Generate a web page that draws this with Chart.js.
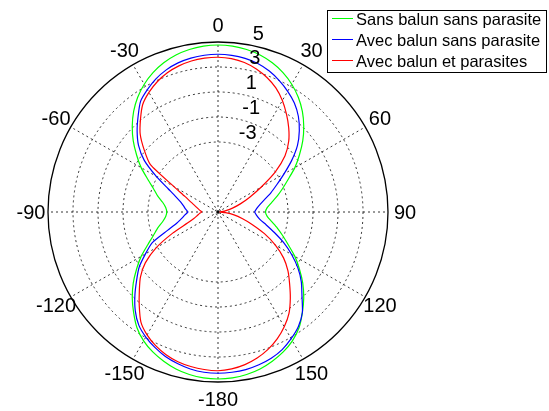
<!DOCTYPE html>
<html><head><meta charset="utf-8">
<script src="https://cdn.jsdelivr.net/npm/chart.js@4"></script>
<style>html,body{margin:0;padding:0;background:#fff;}canvas{display:block;}</style>
</head><body>
<canvas id="c" width="549" height="411"></canvas>
<script>
// Angle categories (degrees, clockwise from top)
const ANGLES = [0,5,10,15,20,25,30,35,40,45,50,55,60,65,70,75,80,85,90,
  95,100,105,110,115,120,125,130,135,140,145,150,155,160,165,170,175,180,
  185,190,195,200,205,210,215,220,225,230,235,240,245,250,255,260,265,270,
  275,280,285,290,295,300,305,310,315,320,325,330,335,340,345,350,355];

// Series values (dB)
const SANS_BALUN_SANS_PARASITE = [4.76,4.72,4.6,4.4,4.1,3.7,3.2,2.6,1.9,1.1,0.25,-0.65,-1.5,-2.4,-3.1,-3.7,-4.25,-4.65,-4.8,
  -4.65,-4.25,-3.7,-3.1,-2.4,-1.5,-0.65,0.25,1.1,1.9,2.7,3.3,3.75,4.1,4.4,4.6,4.72,4.76,
  4.72,4.6,4.4,4.1,3.75,3.3,2.7,1.9,1.1,0.25,-0.65,-1.5,-2.4,-3.1,-3.6,-4.1,-4.4,-4.5,
  -4.4,-4.1,-3.6,-3.1,-2.4,-1.5,-0.65,0.25,1.1,1.9,2.6,3.2,3.7,4.1,4.4,4.6,4.72];
const AVEC_BALUN_SANS_PARASITE = [4.02,3.98,3.88,3.7,3.4,3.0,2.55,2.05,1.4,0.6,-0.3,-1.4,-2.5,-3.4,-4.1,-4.75,-5.2,-5.5,-5.66,
  -5.5,-5.2,-4.6,-3.8,-2.8,-1.8,-0.8,0.1,0.9,1.9,2.6,3.1,3.55,3.85,4.05,4.2,4.27,4.3,
  4.27,4.15,3.95,3.7,3.35,2.95,2.45,1.7,0.8,-0.1,-0.9,-1.9,-2.8,-4.3,-5.2,-5.65,-5.95,-6.2,
  -6.0,-5.8,-5.5,-5.0,-4.2,-2.9,-1.4,-0.3,0.55,1.35,2.2,2.7,3.15,3.5,3.75,3.9,3.99];
const AVEC_BALUN_ET_PARASITES = [3.78,3.72,3.55,3.25,2.85,2.35,1.7,0.95,0.2,-0.6,-1.6,-3.0,-4.6,-5.8,-6.7,-7.4,-7.95,-8.3,-8.45,
  -8.0,-7.3,-6.6,-5.7,-4.5,-3.3,-2.2,-1.3,-0.5,0.4,1.3,2.0,2.6,3.1,3.5,3.8,4.0,4.1,
  4.05,3.95,3.8,3.55,3.2,2.75,2.15,1.2,0.3,-0.5,-1.5,-2.9,-4.6,-6.0,-6.6,-6.9,-7.1,-7.3,
  -7.15,-6.95,-6.7,-6.3,-5.7,-4.5,-2.0,-0.9,0.2,1.05,1.9,2.45,2.9,3.25,3.5,3.67,3.75];

const SERIES_LABELS = ['Sans balun sans parasite', 'Avec balun sans parasite', 'Avec balun et parasites'];
const SERIES_COLORS = ['#00ff00', '#0000ff', '#ff0000'];

// Tick labels
const ANGLE_TICKS = [0,30,60,90,120,150,180,210,240,270,300,330];
const ANGLE_TICK_LABELS = ['0','30','60','90','120','150','-180','-150','-120','-90','-60','-30'];
const RADIAL_TICKS = [5,3,1,-1,-3];
const R_MIN = -8.6, R_MAX = 5, CENTER_RING = -8.36;

const FONT = '"Liberation Sans", Arial, Helvetica, sans-serif';

const labelsPlugin = {
  id: 'polarLabels',
  afterDatasetsDraw(chart) {
    const s = chart.scales.r, ctx = chart.ctx;
    ctx.save();
    ctx.fillStyle = '#000';
    ctx.font = '20px ' + FONT;
    ctx.textAlign = 'center';
    ctx.textBaseline = 'middle';
    const outer = s.getDistanceFromCenterForValue(s.max);
    ANGLE_TICKS.forEach((a, i) => {
      const p = s.getPointPosition(ANGLES.indexOf(a), outer * 1.1);
      ctx.fillText(ANGLE_TICK_LABELS[i], p.x, p.y + 1);
    });
    ctx.textAlign = 'left';
    ctx.textBaseline = 'alphabetic';
    RADIAL_TICKS.forEach(v => {
      const d = s.getDistanceFromCenterForValue(v);
      const p = s.getPointPosition(0, d, 8 * Math.PI / 180);
      ctx.fillText(String(v), p.x + 11, p.y - 4);
    });
    ctx.restore();
  },
  afterDraw(chart) {
    const ctx = chart.ctx;
    ctx.save();
    ctx.fillStyle = '#fff';
    ctx.fillRect(327.5, 10.5, 219, 62);
    ctx.strokeStyle = '#000';
    ctx.lineWidth = 1;
    ctx.strokeRect(327.5, 10.5, 219, 62);
    ctx.font = '16.5px ' + FONT;
    ctx.textAlign = 'left';
    ctx.textBaseline = 'middle';
    const rows = [20, 41, 62];
    chart.data.datasets.forEach((ds, i) => {
      const y = rows[i];
      ctx.strokeStyle = ds.borderColor;
      ctx.lineWidth = 1;
      ctx.beginPath();
      ctx.moveTo(332, y - 1.5);
      ctx.lineTo(353, y - 1.5);
      ctx.stroke();
      ctx.fillStyle = '#000';
      ctx.fillText(ds.label, 356, y + 0.5);
    });
    ctx.restore();
  }
};

const seriesData = [SANS_BALUN_SANS_PARASITE, AVEC_BALUN_SANS_PARASITE, AVEC_BALUN_ET_PARASITES];

new Chart(document.getElementById('c'), {
  type: 'radar',
  data: {
    labels: ANGLES,
    datasets: seriesData.map((d, i) => ({
      label: SERIES_LABELS[i],
      data: d,
      borderColor: SERIES_COLORS[i],
      backgroundColor: 'transparent',
      borderWidth: 1.2,
      pointRadius: 0,
      pointHoverRadius: 0,
      fill: false,
      tension: 0.2,
      order: 3 - i
    }))
  },
  options: {
    responsive: false,
    animation: false,
    devicePixelRatio: 1,
    layout: { padding: { left: 48, right: 161, top: 42, bottom: 29 } },
    plugins: { legend: { display: false }, tooltip: { enabled: false } },
    scales: {
      r: {
        min: R_MIN,
        max: R_MAX,
        startAngle: 0,
        afterBuildTicks: s => {
          s.ticks = [CENTER_RING].concat(RADIAL_TICKS.slice().sort((a, b) => a - b)).map(v => ({ value: v }));
        },
        ticks: { display: false },
        pointLabels: { display: false },
        grid: {
          circular: true,
          color: '#000',
          lineWidth: c => (c.tick && c.tick.value === R_MAX) ? 1.3 : 0.8
        },
        border: {
          dash: c => (c.tick && c.tick.value === R_MAX) ? [] : [2, 3]
        },
        angleLines: {
          color: '#000',
          lineWidth: c => ANGLE_TICKS.includes(ANGLES[c.index]) ? 0.8 : 0,
          borderDash: [2, 3]
        }
      }
    }
  },
  plugins: [labelsPlugin]
});
</script>
</body></html>
